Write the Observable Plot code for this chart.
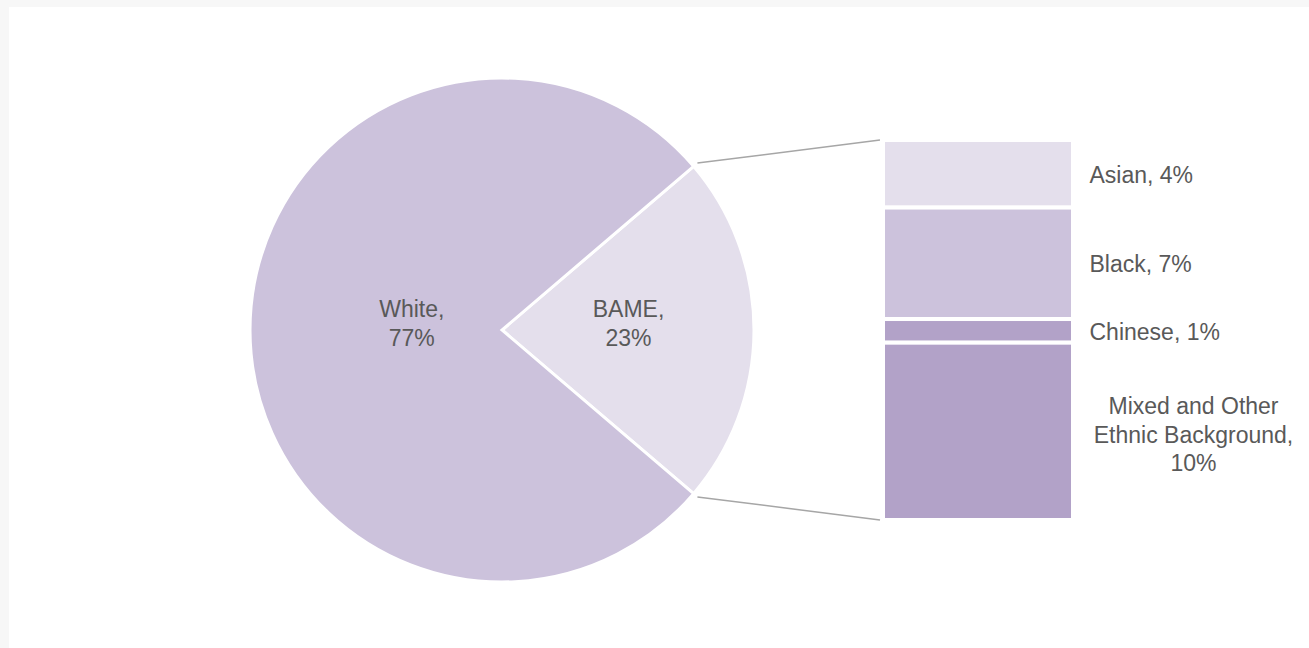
<!DOCTYPE html>
<html>
<head>
<meta charset="utf-8">
<script src="https://cdn.jsdelivr.net/npm/d3@7"></script>
<script src="https://cdn.jsdelivr.net/npm/@observablehq/plot@0.6"></script>
<style>
  html, body { margin: 0; padding: 0; background: #f7f7f7; }
  #chart { position: absolute; left: 9px; top: 7px; width: 1300px; height: 641px; background: #ffffff; }
  #chart svg { display: block; }
</style>
</head>
<body>
<div id="chart"></div>
<script>
// ---- data ----
const sliceNames = ["BAME", "White"];
const sliceValues = [22.5, 77.5];
const sliceLabels = ["BAME,\n23%", "White,\n77%"];

const groupNames = ["Asian", "Black", "Chinese", "Mixed and Other Ethnic Background"];
const groupValues = [4.0, 6.6, 1.4, 10.5];
const groupLabels = ["Asian, 4%", "Black, 7%", "Chinese, 1%", "Mixed and Other\nEthnic Background,\n10%"];

// ---- style / layout ----
const W = 1300, H = 641;
const PIE_CX = 493, PIE_R = 252;
const BAR_X1 = 874, BAR_X2 = 1064;
const BAR_TOP = 133, BAR_BOTTOM = 513;
const LABEL_X = 1080, WRAP_LABEL_X = 1184;
const sliceColor = {White: "#ccc2dc", BAME: "#e4dfec"};
const groupColor = {Asian: "#e4dfec", Black: "#ccc2dc", Chinese: "#b2a2c8", "Mixed and Other Ethnic Background": "#b2a2c8"};
const sliceLabelRadius = {White: 0.36, BAME: 0.5};
const TEXT = "#595959";
const FONT = "'Liberation Sans', Arial, sans-serif";

const bameTotal = d3.sum(groupValues);
const pieTotal = d3.sum(sliceValues);

// bar table (stacked top to bottom)
let acc = 0;
const bars = groupNames.map((name, i) => {
  const y1 = acc; acc += groupValues[i];
  return {name, value: groupValues[i], label: groupLabels[i], y1, y2: acc, mid: (y1 + acc) / 2};
});

// pie table
const bameHalf = (sliceValues[0] / pieTotal) * Math.PI;
const pieGen = d3.pie().sort(null).value(d => d.value)
  .startAngle(Math.PI / 2 - bameHalf).endAngle(Math.PI / 2 - bameHalf + 2 * Math.PI);
const pieData = pieGen(sliceNames.map((name, i) => ({name, value: sliceValues[i], label: sliceLabels[i]})));
const pieLabels = pieData.map(a => {
  const mid = (a.startAngle + a.endAngle) / 2;
  const r = sliceLabelRadius[a.data.name] * PIE_R;
  return {label: a.data.label, x: PIE_CX + r * Math.sin(mid), dyPx: -r * Math.cos(mid)};
});

function pieMark(index, scales) {
  const cx = scales.x(PIE_CX), cy = scales.y(bameTotal / 2);
  const g = d3.create("svg:g");
  const arc = d3.arc().innerRadius(0).outerRadius(PIE_R);
  g.selectAll("path.slice").data(pieData).join("path")
    .attr("transform", `translate(${cx},${cy})`)
    .attr("d", arc)
    .attr("fill", d => sliceColor[d.data.name])
    .attr("stroke", "#ffffff")
    .attr("stroke-width", 3)
    .attr("stroke-linejoin", "miter");
  // connector lines from BAME slice edge to bar top / bottom
  const bame = pieData[0];
  const rr = PIE_R + 5;
  const ends = [
    {a: bame.startAngle, y: scales.y(0)},
    {a: bame.endAngle, y: scales.y(bameTotal)}
  ];
  g.selectAll("line").data(ends).join("line")
    .attr("x1", d => cx + rr * Math.sin(d.a))
    .attr("y1", d => cy - rr * Math.cos(d.a))
    .attr("x2", scales.x(BAR_X1) - 3)
    .attr("y2", d => d.y)
    .attr("stroke", "#a6a6a6")
    .attr("stroke-width", 1.5);
  return g.node();
}

const plot = Plot.plot({
  width: W,
  height: H,
  margin: 0,
  style: {fontFamily: FONT, fontSize: "23px", background: "transparent"},
  x: {type: "linear", domain: [0, W], range: [0, W], axis: null},
  y: {type: "linear", domain: [0, bameTotal], range: [BAR_TOP, BAR_BOTTOM], axis: null},
  marks: [
    pieMark,
    Plot.rect(bars, {
      x1: () => BAR_X1, x2: () => BAR_X2, y1: "y1", y2: "y2",
      fill: d => groupColor[d.name], stroke: "#ffffff", strokeWidth: 4
    }),
    Plot.text(pieLabels, {
      x: "x", y: () => bameTotal / 2, text: "label", dy: -8,
      fill: TEXT, fontSize: 23, lineHeight: 1.26, textAnchor: "middle", fontFamily: FONT
    }),
    Plot.text(bars.filter(d => !d.label.includes("\n")), {
      x: () => LABEL_X, y: "mid", text: "label", dy: 1,
      fill: TEXT, fontSize: 23, textAnchor: "start", fontFamily: FONT
    }),
    Plot.text(bars.filter(d => d.label.includes("\n")), {
      x: () => WRAP_LABEL_X, y: "mid", text: "label", dy: 2, lineHeight: 1.24,
      fill: TEXT, fontSize: 23, textAnchor: "middle", fontFamily: FONT
    })
  ]
});
document.getElementById("chart").appendChild(plot);
</script>
</body>
</html>
